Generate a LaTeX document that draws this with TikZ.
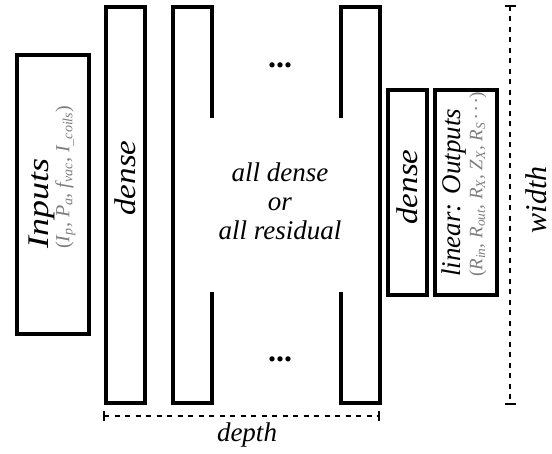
\documentclass[tikz,border=0pt]{standalone}
\usepackage{fontspec}
\usepackage{graphicx}
\setmainfont{Liberation Serif}
\definecolor{subgray}{RGB}{125,125,125}
\newcommand{\sbs}[1]{\textsubscript{#1}}
\newcommand{\stretchlab}[1]{\scalebox{1.1}[1]{#1}}
\begin{document}
\begin{tikzpicture}[x=1pt,y=-1pt,
  box/.style={line width=3.6pt, line join=miter},
  lab/.style={font=\fontsize{27}{29}\selectfont\itshape, inner sep=0pt},
  biglab/.style={font=\fontsize{30}{32}\selectfont\itshape, inner sep=0pt},
  dotlab/.style={font=\fontsize{32}{32}\selectfont\bfseries, inner sep=0pt, anchor=base},
  dim/.style={line width=2.2pt, dash pattern=on 5pt off 5.5pt},
  tickmark/.style={line width=2.4pt}]
\useasboundingbox (0,0) rectangle (552,454);
% boxes
\draw[box] (17,55) rectangle (89,334);
\draw[box] (106,7) rectangle (145,403);
\draw[box] (212,118) -- (212,7) -- (173,7) -- (173,403) -- (212,403) -- (212,292);
\draw[box] (341,118) -- (341,7) -- (380,7) -- (380,403) -- (341,403) -- (341,292);
\draw[box] (388,90) rectangle (427,295);
\draw[box] (435,90) rectangle (497,295);
% labels
\node[lab, rotate=90, align=left, anchor=west] (inputs) at (52,249)
  {{\fontsize{30}{30}\selectfont\scalebox{1.2}[1]{Inputs}}\\[-8pt]\textcolor{subgray}{\fontsize{20}{20}\selectfont\textup{(}I\sbs{p}, P\sbs{a}, f\sbs{vac}, I\sbs{\_coils}\textup{)}}};
\node[biglab, rotate=90] (dense1) at (125.5,178) {\stretchlab{dense}};
\node[dotlab] (dotstop) at (280,68) {...};
\node[dotlab] (dotsbot) at (280,362) {...};
\node[lab, align=center] (mid) at (280,201) {all dense\\or\\all residual};
\node[biglab, rotate=90] (dense2) at (407.5,187) {\stretchlab{dense}};
\node[lab, rotate=90, align=left, anchor=west] (outputs) at (464,277)
  {linear: Outputs\\[-7pt]\textcolor{subgray}{\fontsize{19}{19}\selectfont\textup{(}R\sbs{in}, R\sbs{out}, R\sbs{X}, Z\sbs{X}, R\sbs{S}\,\textperiodcentered\,\textperiodcentered\,\textperiodcentered\textup{)}}};
% dimension lines
\coordinate (wt) at (510,6);
\coordinate (wb) at (510,404);
\coordinate (dl) at (104,416);
\coordinate (dr) at (379,416);
\draw[dim] (wt) -- (wb);
\draw[tickmark] ([xshift=-5pt]wt) -- ([xshift=6pt]wt);
\draw[tickmark] ([xshift=-5pt]wb) -- ([xshift=6pt]wb);
\draw[dim] (dl) -- (dr);
\draw[tickmark] ([yshift=-5pt]dl) -- ([yshift=5pt]dl);
\draw[tickmark] ([yshift=-5pt]dr) -- ([yshift=5pt]dr);
\node[lab, anchor=base] (depthlab) at (247,442) {depth};
\node[biglab, rotate=90] (widthlab) at (536,200) {width};
\end{tikzpicture}
\end{document}
